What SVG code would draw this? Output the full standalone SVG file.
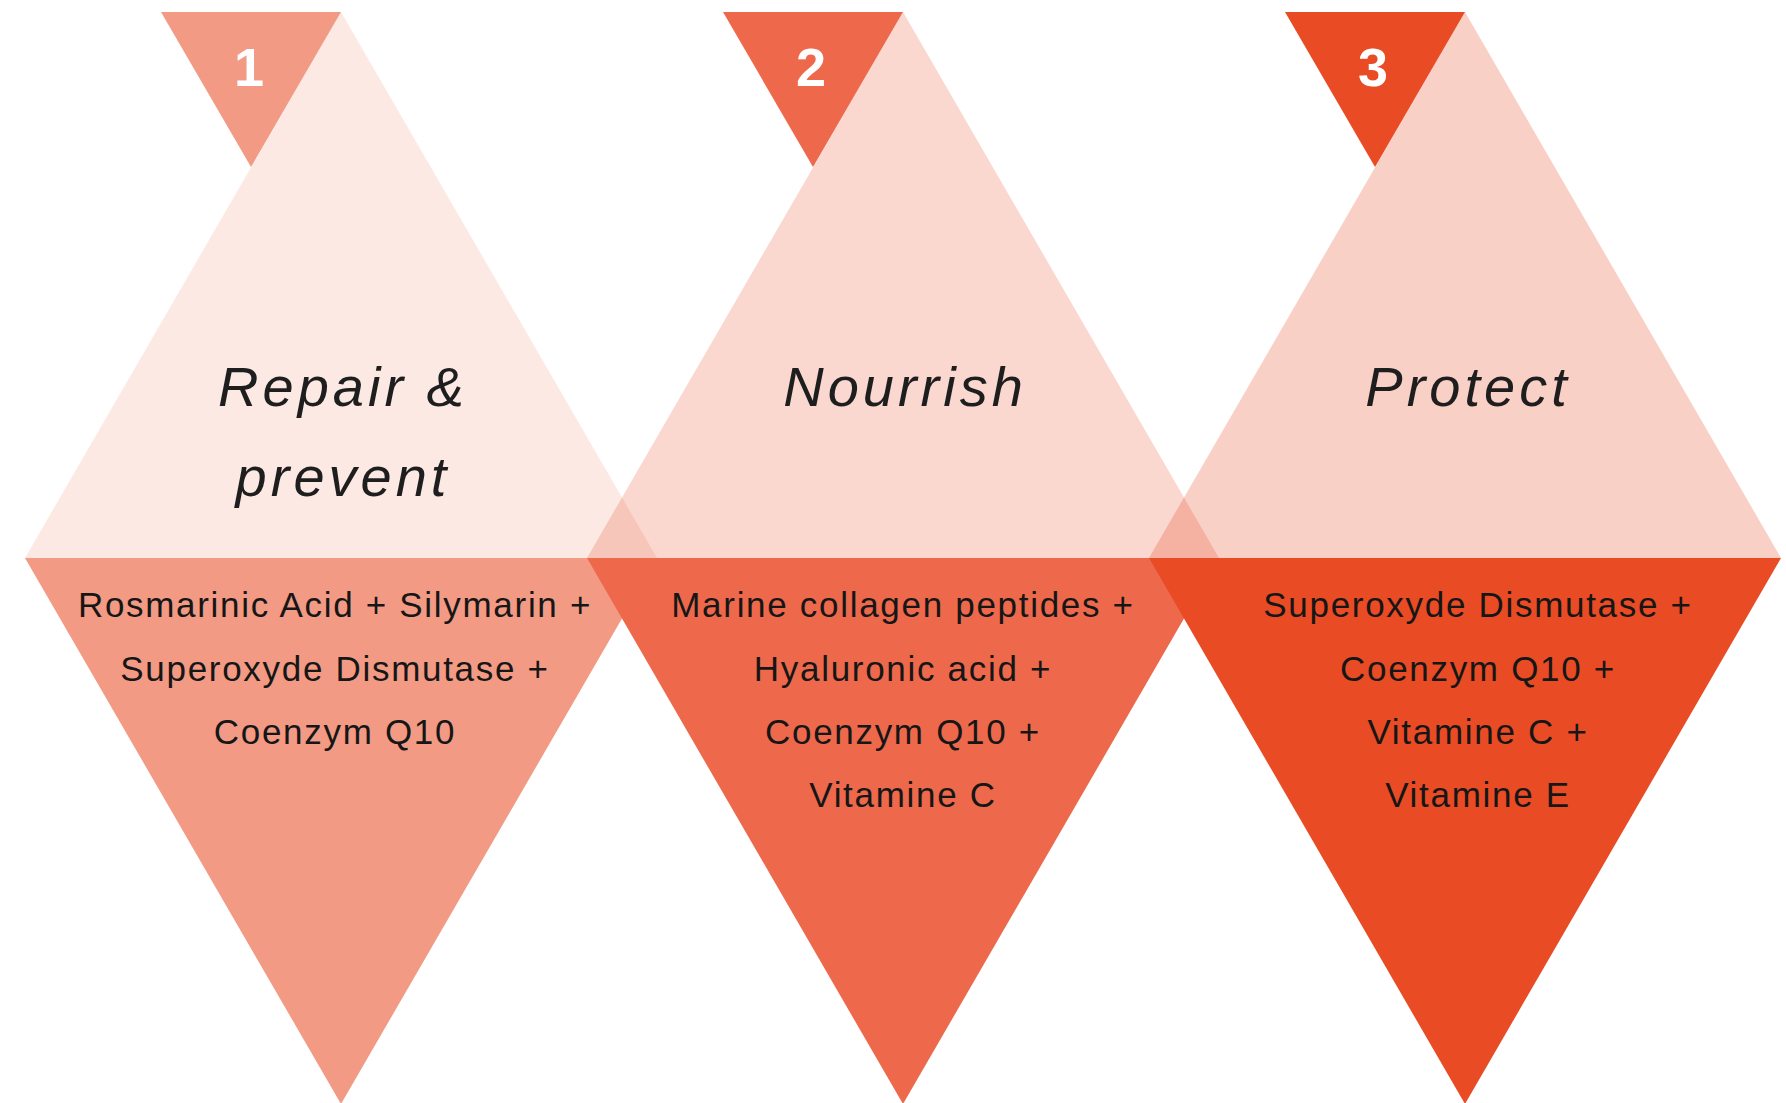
<svg xmlns="http://www.w3.org/2000/svg" width="1786" height="1103" viewBox="0 0 1786 1103">
<style>
.up{fill:#E94B24}
.head{font-family:"Liberation Sans",Arial,sans-serif;font-style:italic;font-size:56px;letter-spacing:4px;fill:#1e1e1e;text-anchor:middle}
.body{font-family:"Liberation Sans",Arial,sans-serif;font-size:35px;letter-spacing:1.7px;fill:#161616;text-anchor:middle}
.num{font-family:"Liberation Sans",Arial,sans-serif;font-weight:bold;font-size:54px;fill:#fff;text-anchor:middle}
</style>
<rect width="1786" height="1103" fill="#fff"/>
<g id="step1-top">
<polygon class="up" fill-opacity="0.12" points="341,12 25,558 657,558"/>
</g>
<g id="step2-top">
<polygon class="up" fill-opacity="0.22" points="903,12 587,558 1219,558"/>
</g>
<g id="step3-top">
<polygon class="up" fill-opacity="0.26" points="1465,12 1149,558 1781,558"/>
</g>
<g id="step1-bottom">
<polygon fill="#F29A84" points="25,558 657,558 341,1104"/>
</g>
<g id="step2-bottom">
<polygon fill="#EE694B" points="587,558 1219,558 903,1104"/>
</g>
<g id="step3-bottom">
<polygon fill="#E94B24" points="1149,558 1781,558 1465,1104"/>
</g>
<g id="badge1">
<polygon fill="#F29A84" points="161,12 341,12 251,167"/>
<text class="num" x="249" y="86">1</text>
</g>
<g id="badge2">
<polygon fill="#EE694B" points="723,12 903,12 813,167"/>
<text class="num" x="811" y="86">2</text>
</g>
<g id="badge3">
<polygon fill="#E94B24" points="1285,12 1465,12 1375,167"/>
<text class="num" x="1373" y="86">3</text>
</g>
<g id="labels1">
<text class="head" x="343" y="406">Repair &amp;</text>
<text class="head" x="343" y="496">prevent</text>
<text class="body" x="335" y="617">Rosmarinic Acid + Silymarin +</text>
<text class="body" x="335" y="681">Superoxyde Dismutase +</text>
<text class="body" x="335" y="744">Coenzym Q10</text>
</g>
<g id="labels2">
<text class="head" x="905" y="406">Nourrish</text>
<text class="body" x="903" y="617">Marine collagen peptides +</text>
<text class="body" x="903" y="681">Hyaluronic acid +</text>
<text class="body" x="903" y="744">Coenzym Q10 +</text>
<text class="body" x="903" y="807">Vitamine C</text>
</g>
<g id="labels3">
<text class="head" x="1468" y="406">Protect</text>
<text class="body" x="1478" y="617">Superoxyde Dismutase +</text>
<text class="body" x="1478" y="681">Coenzym Q10 +</text>
<text class="body" x="1478" y="744">Vitamine C +</text>
<text class="body" x="1478" y="807">Vitamine E</text>
</g>
<g id="connectors"></g>
</svg>
